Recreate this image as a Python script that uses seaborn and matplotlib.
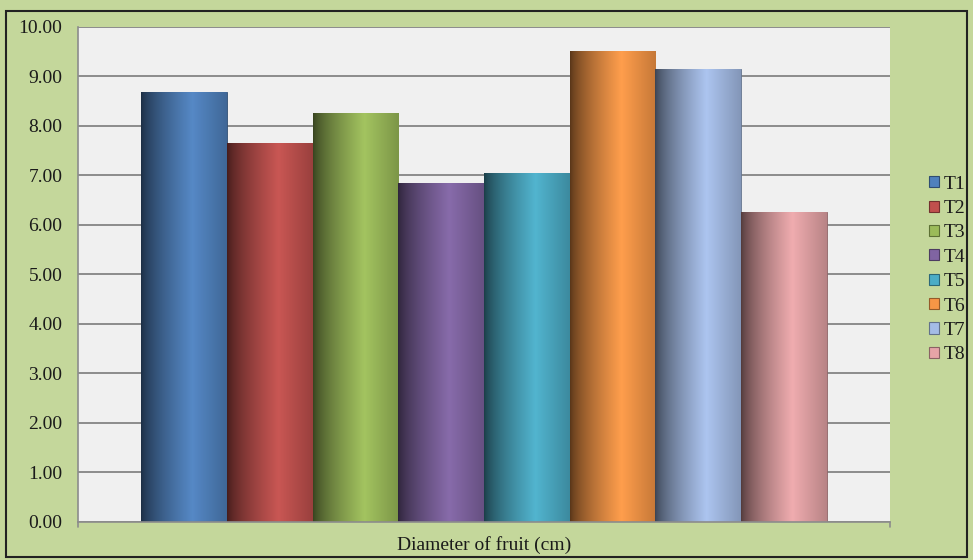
import matplotlib
matplotlib.use('Agg')
import matplotlib.pyplot as plt
import matplotlib.patches as mpatches
from matplotlib.colors import to_rgb
import numpy as np
import pandas as pd
import seaborn as sns

# Data
treatments = ['T1', 'T2', 'T3', 'T4', 'T5', 'T6', 'T7', 'T8']
diameter = [8.69, 7.65, 8.26, 6.85, 7.05, 9.52, 9.15, 6.27]
category = 'Diameter of fruit (cm)'
bar_colors = ['#4f81bd', '#c0504d', '#9bbb59', '#8064a2',
              '#4bacc6', '#f79646', '#a4bce6', '#e6a4a7']
y_ticks = np.arange(0, 10.01, 1.0)

df = pd.DataFrame({'category': category, 'treatment': treatments, 'diameter': diameter})

sns.set_style('white')
plt.rcParams['font.family'] = ['Liberation Serif', 'DejaVu Serif']
plt.rcParams['font.size'] = 14
plt.rcParams['text.color'] = '#1a1a1a'
plt.rcParams['axes.labelcolor'] = '#1a1a1a'
plt.rcParams['ytick.color'] = '#1a1a1a'

fig = plt.figure(figsize=(9.73, 5.6), dpi=100)
fig.patch.set_facecolor('#c4d79b')
ax = fig.add_axes([0.080, 0.068, 0.835, 0.884])
ax.set_facecolor('#f0f0f0')

sns.barplot(data=df, x='category', y='diameter', hue='treatment',
            palette=bar_colors, width=0.844, saturation=1, ax=ax,
            edgecolor='none', linewidth=0)

# Excel-style cylindrical gradient on each bar
for patch, col in zip(ax.patches[:len(treatments)], bar_colors):
    x0, y0 = patch.get_x(), patch.get_y()
    w, h = patch.get_width(), patch.get_height()
    base = np.array(to_rgb(col))
    pos = np.linspace(0, 1, 256)
    dark = base * 0.35
    light = np.clip(base * 1.02 + 0.02, 0, 1)
    right = base * 0.8
    grad = np.zeros((1, 256, 3))
    for i, p in enumerate(pos):
        if p < 0.6:
            t = (p / 0.6) ** 0.7
            grad[0, i] = dark + (light - dark) * t
        else:
            t = (p - 0.6) / 0.4
            grad[0, i] = light + (right - light) * t
    im = ax.imshow(grad, extent=[x0, x0 + w, y0, y0 + h], aspect='auto',
                   zorder=patch.get_zorder() + 0.1, interpolation='bilinear')
    im.set_clip_path(patch)
    patch.set_edgecolor(tuple(base * 0.6))
    patch.set_linewidth(0.6)

ax.set_xlim(-0.5, 0.5)
ax.set_ylim(0, 10)
ax.set_yticks(y_ticks)
ax.set_yticklabels([f'{v:.2f}' for v in y_ticks])
ax.yaxis.grid(True, color='#8c8c8c', linewidth=1.4)
ax.set_axisbelow(True)
ax.set_xticks([])
ax.set_xlabel(category, fontsize=14, labelpad=10)
ax.set_ylabel('')
ax.tick_params(axis='y', length=6, color='#8c8c8c', width=1.2, pad=5, labelsize=14,
               labelcolor='#1a1a1a')
for s in ['top', 'right']:
    ax.spines[s].set_visible(False)
for s in ['left', 'bottom']:
    ax.spines[s].set_color('#8c8c8c')
    ax.spines[s].set_linewidth(1.2)
# end ticks on the x axis
for xv in (-0.5, 0.5):
    ax.plot([xv, xv], [0, -0.1], color='#8c8c8c', lw=1.2, clip_on=False)

handles = [mpatches.Patch(facecolor=c, edgecolor=tuple(np.array(to_rgb(c)) * 0.6), linewidth=0.8)
           for c in bar_colors]
ax.legend(handles, treatments, loc='center left', bbox_to_anchor=(1.026, 0.51),
          frameon=False, handlelength=0.5, handleheight=0.5, handletextpad=0.25,
          labelspacing=0.38, fontsize=14)

# outer frame
fig.add_artist(mpatches.Rectangle((0.006, 0.006), 0.988, 0.975, transform=fig.transFigure,
                                  fill=False, edgecolor='#222222', linewidth=1.5))

plt.savefig('out.png', dpi=100, facecolor=fig.get_facecolor())
plt.close()
